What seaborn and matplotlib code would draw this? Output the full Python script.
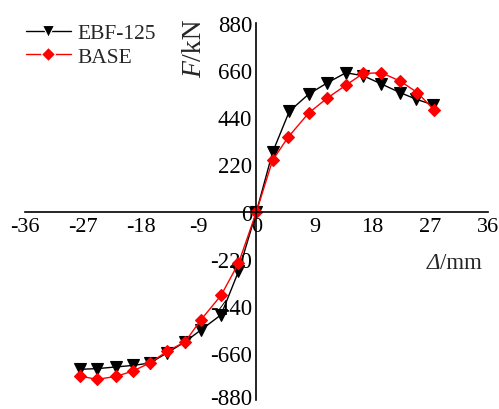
import matplotlib

matplotlib.use("Agg")
import matplotlib.pyplot as plt
import matplotlib.transforms as mtransforms
import pandas as pd
import seaborn as sns


# skeleton curves (displacement in mm, load in kN)
EBF_X = [-27.4, -24.8, -21.8, -19.2, -16.6, -13.9, -11.1, -8.7, -5.5, -2.8, 0,
         2.5, 5.1, 8.1, 11.0, 13.9, 16.6, 19.4, 22.3, 24.8, 27.4]
EBF_F = [-735, -732, -724, -717, -706, -659, -607, -553, -481, -279, 0,
         276, 467, 547, 600, 647, 633, 595, 555, 524, 498]

BASE_X = [-27.4, -24.8, -21.8, -19.2, -16.6, -13.9, -11.1, -8.7, -5.5, -2.8, 0,
          2.5, 4.9, 8.1, 11.0, 13.9, 16.6, 19.4, 22.3, 25.0, 27.6]
BASE_F = [-767, -782, -768, -743, -706, -651, -607, -507, -390, -241, 0,
          239, 346, 459, 529, 589, 644, 647, 609, 555, 474]

SERIES = ["EBF-125", "BASE"]
X_TICKS = [-36, -27, -18, -9, 0, 9, 18, 27, 36]
Y_TICKS = [-880, -660, -440, -220, 0, 220, 440, 660, 880]


def build_frame() -> pd.DataFrame:
    ebf = pd.DataFrame({"disp": EBF_X, "force": EBF_F, "model": SERIES[0]})
    base = pd.DataFrame({"disp": BASE_X, "force": BASE_F, "model": SERIES[1]})
    return pd.concat([ebf, base], ignore_index=True)


def main() -> None:
    sns.set_theme(style="white")
    plt.rcParams["font.family"] = ["Liberation Serif", "DejaVu Serif"]

    df = build_frame()

    fig = plt.figure(figsize=(4.99, 4.10), dpi=100)
    ax = fig.add_axes([0.050, 0.021, 0.928, 0.921])

    # spines through the origin first: set_position resets the tick labels
    for side in ["top", "right"]:
        ax.spines[side].set_visible(False)
    for side in ["left", "bottom"]:
        ax.spines[side].set_position(("data", 0))
        ax.spines[side].set_color("black")
        ax.spines[side].set_linewidth(1.2)

    sns.lineplot(
        data=df,
        x="disp",
        y="force",
        hue="model",
        style="model",
        hue_order=SERIES,
        style_order=SERIES,
        palette={"EBF-125": "black", "BASE": "#ff0000"},
        markers={"EBF-125": "v", "BASE": "D"},
        dashes=False,
        markeredgewidth=0.8,
        linewidth=1.0,
        sort=False,
        ax=ax,
    )
    for line, col, ms in zip(ax.lines[:2], ["black", "#ff0000"], [8.0, 6.2]):
        line.set_markeredgecolor(col)
        line.set_markersize(ms)

    ax.set_xlim(-36, 36)
    ax.set_ylim(-880, 880)
    ax.set_xticks(X_TICKS)
    ax.set_yticks(Y_TICKS)
    ax.set_xticklabels([str(t) for t in X_TICKS])
    ax.set_yticklabels([str(t) for t in Y_TICKS])
    ax.tick_params(direction="in", length=5, width=1.2, colors="black", pad=4)
    ax.tick_params(axis="x", labelsize=16)
    ax.tick_params(axis="y", labelsize=16.5, pad=3)

    # keep the lowest y label inside the canvas
    bottom_lab = ax.get_yticklabels()[0]
    bottom_lab.set_transform(bottom_lab.get_transform()
                             + mtransforms.ScaledTranslation(0, 3 / 72, fig.dpi_scale_trans))

    ax.set_xlabel("")
    ax.set_ylabel("")
    f_txt = ax.text(-9.6, 668, "F", rotation=90, fontsize=20, style="italic",
                    ha="center", va="center")
    ax.annotate("/kN", xy=(0.5, 1.0), xycoords=f_txt, rotation=90,
                fontsize=20, ha="center", va="bottom")
    d_txt = ax.text(26.4, -235, "Δ", fontsize=16.5, style="italic",
                    ha="left", va="center")
    ax.annotate("/mm", xy=(1.0, 0.5), xycoords=d_txt, fontsize=16.5,
                ha="left", va="center")

    handles, labels = ax.get_legend_handles_labels()
    leg = ax.legend(
        handles,
        labels,
        loc="upper left",
        bbox_to_anchor=(-0.04, 1.05),
        frameon=False,
        fontsize=15.5,
        handlelength=2.1,
        handletextpad=0.3,
        labelspacing=0.15,
    )
    for h, ms in zip(leg.legend_handles, [8.5, 6.8]):
        h.set_markersize(ms)

    fig.savefig("out.png", dpi=100)
    plt.close(fig)


if __name__ == "__main__":
    main()
